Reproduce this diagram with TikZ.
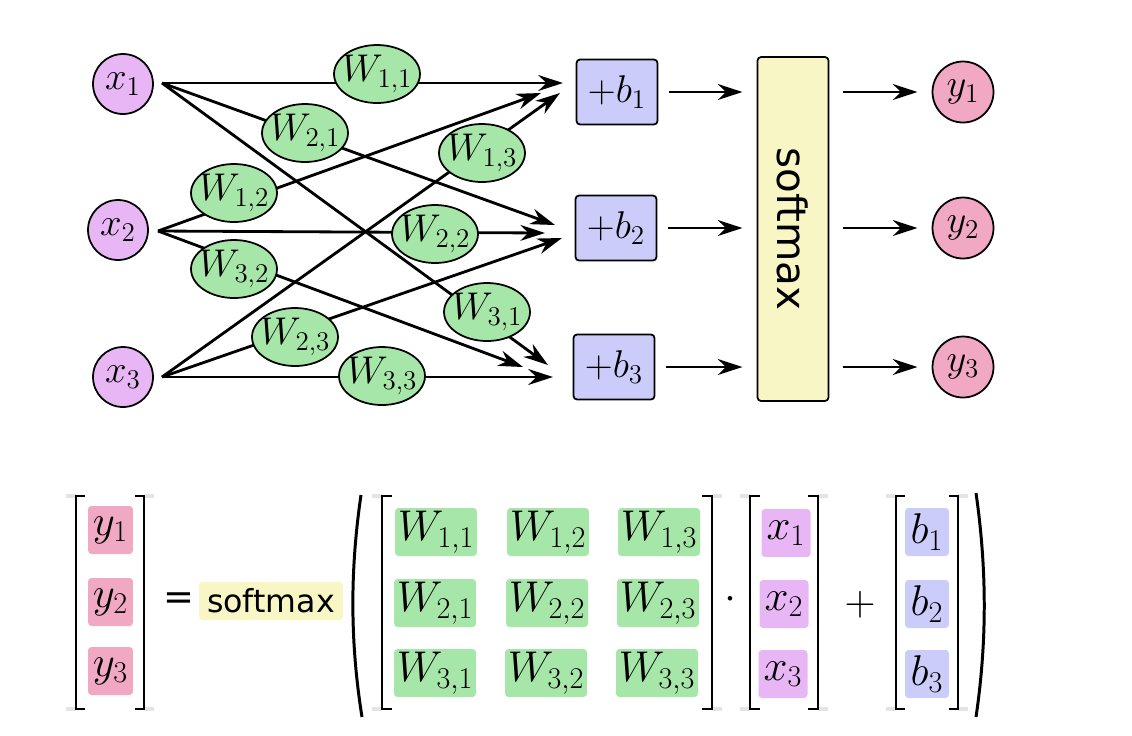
\RequirePackage{fix-cm}
\documentclass[tikz,border=0pt]{standalone}
\usepackage{fontspec}
\newfontfamily\dejavu{DejaVu Sans}
\usetikzlibrary{shapes.geometric,arrows.meta}
\definecolor{xcol}{HTML}{E8B6F4}
\definecolor{ycol}{HTML}{F1A8C3}
\definecolor{bcol}{HTML}{CCCCFA}
\definecolor{wcol}{HTML}{A6E6A8}
\definecolor{scol}{HTML}{F8F6C4}
\definecolor{capgray}{HTML}{E4E4E4}
\begin{document}
\begin{tikzpicture}[x=0.02cm,y=-0.02cm,
  every node/.style={inner sep=0pt,outer sep=0pt},
  topmath/.style={font=\fontsize{22}{26}\selectfont},
  botmath/.style={font=\fontsize{24.5}{28}\selectfont},
  xnode/.style={circle,draw,line width=1pt,fill=xcol,minimum size=1.2cm,topmath},
  ynode/.style={circle,draw,line width=1pt,fill=ycol,minimum size=1.22cm,topmath},
  bnode/.style={rectangle,rounded corners=2pt,draw,line width=1pt,fill=bcol,minimum width=1.62cm,minimum height=1.3cm,topmath},
  wnode/.style={ellipse,draw,line width=1pt,fill=wcol,minimum width=1.72cm,minimum height=1.16cm},
  wtext/.style={topmath},
  smnode/.style={rectangle,rounded corners=2pt,draw,line width=1pt,fill=scol,minimum width=1.42cm,minimum height=6.88cm},
  conn/.style={line width=1.6pt,-{Stealth[length=14pt,width=9pt,inset=4.5pt]}},
  cell/.style={rectangle,rounded corners=2pt,botmath,minimum height=0.96cm},
  wcell/.style={cell,fill=wcol,minimum width=1.64cm},
  xcell/.style={cell,fill=xcol,minimum width=0.98cm},
  ycell/.style={cell,fill=ycol,minimum width=0.9cm},
  bcell/.style={cell,fill=bcol,minimum width=0.88cm},
  brk/.style={line width=1.1pt},
  capline/.style={draw=capgray,line width=2pt},
  paren/.style={line width=1.7pt},
]
\useasboundingbox (0,0) rectangle (1132,735);

% ---------- top graph ----------
\coordinate (s1) at (162,83);
\coordinate (s2) at (158,231);
\coordinate (s3) at (162,377);
\coordinate (t11) at (563,83);
\coordinate (t12) at (541,93);
\coordinate (t13) at (560,93);
\coordinate (t21) at (555,225);
\coordinate (t22) at (545,233);
\coordinate (t23) at (562,238);
\coordinate (t31) at (548,365);
\coordinate (t32) at (523,367);
\coordinate (t33) at (553,377);

\draw[conn] (s1) -- (t11);
\draw[conn] (s2) -- (t12);
\draw[conn] (s3) -- (t13);
\draw[conn] (s1) -- (t21);
\draw[conn] (s2) -- (t22);
\draw[conn] (s3) -- (t23);
\draw[conn] (s1) -- (t31);
\draw[conn] (s2) -- (t32);
\draw[conn] (s3) -- (t33);

\node[xnode] (x1) at (123,84) {$x_1$};
\node[xnode] (x2) at (118,230) {$x_2$};
\node[xnode] (x3) at (123,377) {$x_3$};

\foreach \nm/\px/\py/\lab in {w11/377/74/{1,1}, w21/305/133/{2,1}, w12/234/193/{1,2}, w13/482/153/{1,3},
  w22/435/234/{2,2}, w32/234/269/{3,2}, w31/487/312/{3,1}, w23/295/337/{2,3}, w33/382/376/{3,3}}{
  \node[wnode] (\nm) at (\px,\py) {};
  \node[wtext] (\nm t) at (\nm.center) {$W_{\lab}$};
}

\node[bnode] (b1) at (617,92) {$+b_1$};
\node[bnode] (b2) at (616,228) {$+b_2$};
\node[bnode] (b3) at (614,367) {$+b_3$};

\node[smnode] (sm) at (793,229) {};
\node[rotate=-90,font=\dejavu\fontsize{23}{27}\selectfont] (smlabel) at (sm.center) {softmax};

\node[ynode] (y1) at (963,92) {$y_1$};
\node[ynode] (y2) at (963,228) {$y_2$};
\node[ynode] (y3) at (963,367) {$y_3$};

\foreach \i in {1,2,3}{
  \draw[conn,shorten <=0.24cm,shorten >=0.3cm] (b\i.east) -- (sm.west |- b\i.east);
  \draw[conn,shorten <=0.28cm,shorten >=0.3cm] (sm.east |- y\i.west) -- (y\i.west);
}

% ---------- bottom equation ----------
% y vector
\node[ycell] (my1) at (110.5,530) {$y_1$};
\node[ycell] (my2) at (110.5,602) {$y_2$};
\node[ycell] (my3) at (110.5,671) {$y_3$};
\draw[capline] (66,496) -- (76,496) (66,709) -- (76,709) (144,496) -- (154,496) (144,709) -- (154,709);
\draw[brk] (85,496) -- (76,496) -- (76,709) -- (85,709);
\draw[brk] (135,496) -- (144,496) -- (144,709) -- (135,709);

\node[font=\dejavu\fontsize{21}{25}\selectfont] (eq) at (179,601) {=};
\node[rectangle,rounded corners=2pt,fill=scol,minimum width=2.88cm,minimum height=0.76cm,font=\dejavu\fontsize{18}{22}\selectfont] (msm) at (271,601) {softmax};

\draw[paren] (361,495) .. controls (350,570) and (350,642) .. (362,717);

% W matrix
\node[wcell] (mw11) at (436,532) {$W_{1,1}$};
\node[wcell] (mw12) at (548,532) {$W_{1,2}$};
\node[wcell] (mw13) at (659,532) {$W_{1,3}$};
\node[wcell] (mw21) at (435,603) {$W_{2,1}$};
\node[wcell] (mw22) at (547,603) {$W_{2,2}$};
\node[wcell] (mw23) at (658,603) {$W_{2,3}$};
\node[wcell] (mw31) at (435,673) {$W_{3,1}$};
\node[wcell] (mw32) at (546,673) {$W_{3,2}$};
\node[wcell] (mw33) at (657,673) {$W_{3,3}$};
\draw[capline] (372,496) -- (382,496) (372,709) -- (382,709) (712,496) -- (722,496) (712,709) -- (722,709);
\draw[brk] (392,496) -- (382,496) -- (382,709) -- (392,709);
\draw[brk] (702,496) -- (712,496) -- (712,709) -- (702,709);

\node[botmath] (dot) at (730,600) {$\cdot$};

% x vector
\node[xcell] (mx1) at (786,533) {$x_1$};
\node[xcell] (mx2) at (784,604) {$x_2$};
\node[xcell] (mx3) at (783,674) {$x_3$};
\draw[capline] (740,496) -- (750,496) (740,709) -- (750,709) (818,496) -- (828,496) (818,709) -- (828,709);
\draw[brk] (760,496) -- (750,496) -- (750,709) -- (760,709);
\draw[brk] (808,496) -- (818,496) -- (818,709) -- (808,709);

\node[botmath] (plus) at (860,605) {$+$};

% b vector
\node[bcell] (mb1) at (927,532) {$b_1$};
\node[bcell] (mb2) at (927,604) {$b_2$};
\node[bcell] (mb3) at (927,674) {$b_3$};
\draw[capline] (886,496) -- (896,496) (886,709) -- (896,709) (958,496) -- (968,496) (958,709) -- (968,709);
\draw[brk] (905,496) -- (896,496) -- (896,709) -- (905,709);
\draw[brk] (949,496) -- (958,496) -- (958,709) -- (949,709);

\draw[paren] (976,493) .. controls (987,570) and (987,642) .. (976,717);
\end{tikzpicture}
\end{document}
